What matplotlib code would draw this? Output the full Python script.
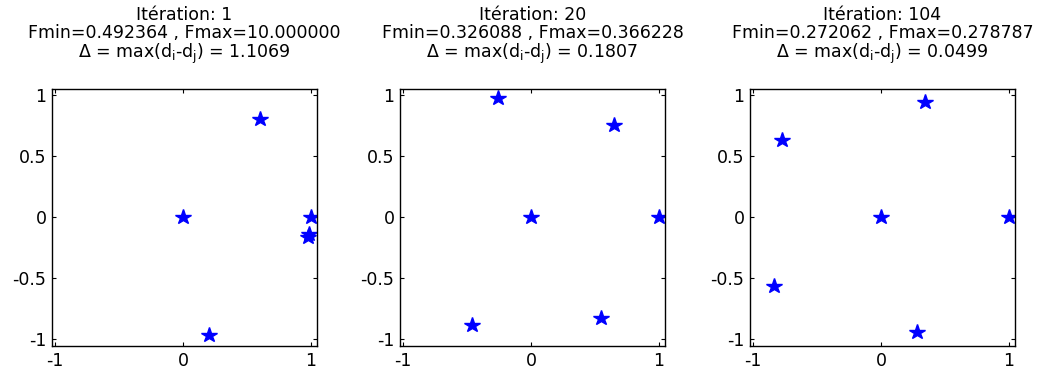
import numpy as np
import matplotlib
matplotlib.use('Agg')
import matplotlib.pyplot as plt

plt.rcParams['font.family'] = ['DejaVu Sans']
plt.rcParams['mathtext.fontset'] = 'dejavusans'

iterations = [1, 20, 104]
fmin = [0.492364, 0.326088, 0.272062]
fmax = [10.000000, 0.366228, 0.278787]
delta = [1.1069, 0.1807, 0.0499]

x1 = [0, 1, 0.605, 0.203, 0.985, 0.978]
y1 = [0, 0, 0.803, -0.966, -0.14, -0.162]
x2 = [0, 1, -0.254, 0.65, -0.459, 0.55]
y2 = [0, 0, 0.974, 0.754, -0.884, -0.824]
x3 = [0, 1, 0.343, -0.778, -0.839, 0.283]
y3 = [0, 0, 0.939, 0.626, -0.563, -0.939]
xs = [x1, x2, x3]
ys = [y1, y2, y3]

fig = plt.figure(figsize=(10.48, 3.74), dpi=100)
lefts = [52, 400, 750]
for k in range(3):
    ax = fig.add_axes([lefts[k] / 1048, (374 - 346) / 374, 265 / 1048, 257 / 374])
    ax.plot(xs[k], ys[k], linestyle='none', marker='*', color='blue', markersize=11.5)
    ax.set_xlim(-1.025, 1.05)
    ax.set_ylim(-1.055, 1.045)
    ax.set_xticks([-1, 0, 1])
    ax.set_yticks([-1, -0.5, 0, 0.5, 1])
    ax.set_xticklabels(['-1', '0', '1'])
    ax.set_yticklabels(['-1', '-0.5', '0', '0.5', '1'])
    ax.tick_params(direction='in', top=True, right=True, length=3, labelsize=12.5, pad=4)
    for s in ax.spines.values():
        s.set_linewidth(1.0)
    titre = ('Itération: %d\nFmin=%f , Fmax=%f\n' % (iterations[k], fmin[k], fmax[k])
             + r'$\Delta$ = max(d$_\mathrm{i}$-d$_\mathrm{j}$) = %.4f' % delta[k])
    ax.set_title(titre, fontsize=12.5, linespacing=1.0, pad=22)

plt.savefig('out.png', dpi=100)
